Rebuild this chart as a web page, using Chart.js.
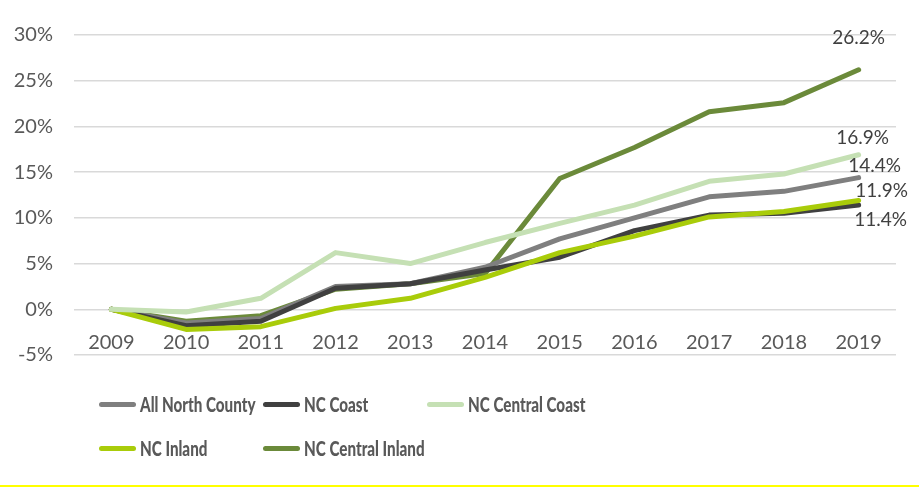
<!DOCTYPE html>
<html>
<head>
<meta charset="utf-8">
<script src="https://cdn.jsdelivr.net/npm/chart.js@4/dist/chart.umd.min.js"></script>
<style>
  body { margin: 0; background: #fff; }
  #wrap { position: relative; width: 919px; height: 487px; }
  #legend { position: absolute; left: 99px; top: 392px; width: 560px; font-family: Lato, "Open Sans", sans-serif; font-weight: 900; font-size: 20px; color: #595959; }
  .item { position: absolute; display: flex; align-items: center; white-space: nowrap; }
  .swatch { width: 37px; height: 5px; border-radius: 3px; margin-right: 4px; }
  .txt { display: inline-block; transform: scaleX(0.76); transform-origin: left center; }
  #rule { position: absolute; left: 0; right: 0; top: 485px; height: 2px; background: #ffff00; }
</style>
</head>
<body>
<div id="wrap">
  <canvas id="chart" width="919" height="487"></canvas>
  <div id="legend"></div>
  <div id="rule"></div>
</div>
<script>
// ============================
// データ
// ============================
const years = ["2009", "2010", "2011", "2012", "2013", "2014", "2015", "2016", "2017", "2018", "2019"];

const allNorthCounty = [0, -1.5, -1.0, 2.5, 2.8, 4.6, 7.7, 10.0, 12.3, 12.9, 14.4];
const ncCoast = [0, -1.8, -1.3, 2.3, 2.8, 4.3, 5.7, 8.6, 10.3, 10.5, 11.4];
const ncCentralCoast = [0, -0.3, 1.2, 6.2, 5.0, 7.3, 9.4, 11.4, 14.0, 14.8, 16.9];
const ncInland = [0, -2.2, -1.9, 0.1, 1.2, 3.5, 6.2, 8.0, 10.1, 10.7, 11.9];
const ncCentralInland = [0, -1.3, -0.7, 2.2, 2.8, 3.9, 14.3, 17.7, 21.6, 22.6, 26.2];

const yTicks = [-5, 0, 5, 10, 15, 20, 25, 30];

const series = [
  { label: "All North County", data: allNorthCounty, color: "#7f7f7f" },
  { label: "NC Coast", data: ncCoast, color: "#404040" },
  { label: "NC Central Coast", data: ncCentralCoast, color: "#c5e0b4" },
  { label: "NC Inland", data: ncInland, color: "#a9cc0a" },
  { label: "NC Central Inland", data: ncCentralInland, color: "#6b8a3a" }
];

// 最終値ラベルの位置ずらし（px）
const endLabelOffsets = {
  "NC Central Inland": [0, -32],
  "NC Central Coast": [4, -17],
  "All North County": [16, -12],
  "NC Inland": [23, -10],
  "NC Coast": [22, 15]
};

const FONT = "Lato, 'Open Sans', sans-serif";

// ============================
// 最終値ラベル描画プラグイン
// ============================
const endLabels = {
  id: "endLabels",
  afterDatasetsDraw(chart) {
    const ctx = chart.ctx;
    ctx.save();
    ctx.font = "19px " + FONT;
    ctx.fillStyle = "#404040";
    ctx.textAlign = "center";
    ctx.textBaseline = "middle";
    chart.data.datasets.forEach((ds, i) => {
      const meta = chart.getDatasetMeta(i);
      const pt = meta.data[meta.data.length - 1];
      const off = endLabelOffsets[ds.label] || [0, 0];
      const v = ds.data[ds.data.length - 1];
      ctx.fillText(v.toFixed(1) + "%", pt.x + off[0], pt.y + off[1]);
    });
    ctx.restore();
  }
};

// 重ね順
const drawOrder = { "NC Central Inland": 5, "All North County": 4, "NC Coast": 3, "NC Inland": 2, "NC Central Coast": 1 };

const chart = new Chart(document.getElementById("chart"), {
  type: "line",
  data: {
    labels: years,
    datasets: series.map(s => ({
      label: s.label,
      data: s.data,
      borderColor: s.color,
      backgroundColor: s.color,
      borderWidth: 5,
      borderCapStyle: "round",
      borderJoinStyle: "round",
      pointRadius: 0,
      tension: 0,
      order: drawOrder[s.label]
    }))
  },
  options: {
    responsive: false,
    animation: false,
    layout: { padding: { top: 35, right: 23, bottom: 132, left: 0 } },
    plugins: {
      legend: { display: false },
      tooltip: { enabled: false }
    },
    scales: {
      x: {
        position: { y: 0 },
        offset: true,
        grid: { display: false, drawTicks: false },
        border: { display: false },
        ticks: { color: "#595959", font: { family: FONT, size: 20 }, padding: 21, maxRotation: 0 }
      },
      y: {
        min: -5,
        max: 30,
        afterBuildTicks: s => { s.ticks = yTicks.map(v => ({ value: v })); },
        afterFit: s => { s.width = 74; },
        grid: { color: "#d9d9d9", lineWidth: 1.5, drawTicks: false },
        border: { display: false },
        ticks: { color: "#595959", font: { family: FONT, size: 20 }, padding: 21, callback: v => v + "%" }
      }
    }
  },
  plugins: [endLabels]
});

// ============================
// 凡例（HTML）
// ============================
const legendPos = [[0, 0], [164, 0], [328, 0], [0, 44], [164, 44]];
const legend = document.getElementById("legend");
series.forEach((s, i) => {
  const item = document.createElement("div");
  item.className = "item";
  item.style.left = legendPos[i][0] + "px";
  item.style.top = legendPos[i][1] + "px";
  const sw = document.createElement("span");
  sw.className = "swatch";
  sw.style.background = s.color;
  const txt = document.createElement("span");
  txt.className = "txt";
  txt.textContent = s.label;
  item.appendChild(sw);
  item.appendChild(txt);
  legend.appendChild(item);
});
</script>
</body>
</html>
